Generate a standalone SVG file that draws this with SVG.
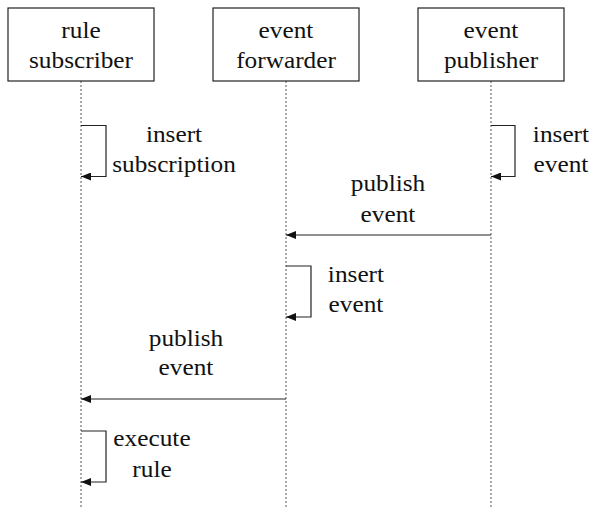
<svg xmlns="http://www.w3.org/2000/svg" width="593" height="508" viewBox="0 0 593 508">
  <style>
    .box { fill: #ffffff; stroke: #222222; stroke-width: 1.2; }
    .life { stroke: #555555; stroke-width: 1; stroke-dasharray: 2 2; fill: none; }
    .msg { stroke: #222222; stroke-width: 1.2; fill: none; marker-end: url(#head); }
    .lbl {
      font-family: "Liberation Serif", "Times New Roman", serif;
      font-size: 22.5px;
      fill: #111111;
      text-anchor: middle;
      transform-box: fill-box;
      transform-origin: center;
      transform: scaleX(1.125);
    }
  </style>
  <defs>
    <marker id="head" markerUnits="userSpaceOnUse" markerWidth="10" markerHeight="8" refX="10" refY="4" orient="auto">
      <path d="M0,0 L10,4 L0,8 z" fill="#111111"/>
    </marker>
  </defs>

  <rect width="593" height="508" fill="#ffffff"/>

  <!-- participants with their lifelines -->
  <g id="rule-subscriber">
    <line class="life" x1="81" y1="81" x2="81" y2="508"/>
    <rect class="box" x="8" y="8" width="146" height="73"/>
    <text class="lbl"><tspan x="81" y="37.7">rule</tspan><tspan x="81" y="68.3">subscriber</tspan></text>
  </g>

  <g id="event-forwarder">
    <line class="life" x1="286" y1="81" x2="286" y2="508"/>
    <rect class="box" x="213" y="8" width="146" height="73"/>
    <text class="lbl"><tspan x="286" y="37.7">event</tspan><tspan x="286" y="68.3">forwarder</tspan></text>
  </g>

  <g id="event-publisher">
    <line class="life" x1="491" y1="81" x2="491" y2="508"/>
    <rect class="box" x="418" y="8" width="146" height="73"/>
    <text class="lbl"><tspan x="491" y="37.7">event</tspan><tspan x="491" y="68.3">publisher</tspan></text>
  </g>

  <!-- messages -->
  <g id="connectors">
    <path class="msg" d="M81,125.5 H106 V176.5 H81"/>
    <text class="lbl"><tspan x="174" y="141.7">insert</tspan><tspan x="174" y="171.7">subscription</tspan></text>

    <path class="msg" d="M491,125.5 H515 V176.5 H491"/>
    <text class="lbl"><tspan x="561" y="141.7">insert</tspan><tspan x="561" y="171.7">event</tspan></text>

    <path class="msg" d="M491,235 H286"/>
    <text class="lbl"><tspan x="388" y="190.7">publish</tspan><tspan x="388" y="221.7">event</tspan></text>

    <path class="msg" d="M286,266 H311 V317 H286"/>
    <text class="lbl"><tspan x="356" y="282.5">insert</tspan><tspan x="356" y="312.5">event</tspan></text>

    <path class="msg" d="M286,399 H81"/>
    <text class="lbl"><tspan x="186" y="346.5">publish</tspan><tspan x="186" y="375.5">event</tspan></text>

    <path class="msg" d="M81,431 H106 V482 H81"/>
    <text class="lbl"><tspan x="152" y="446">execute</tspan><tspan x="152" y="477">rule</tspan></text>
  </g>
</svg>
